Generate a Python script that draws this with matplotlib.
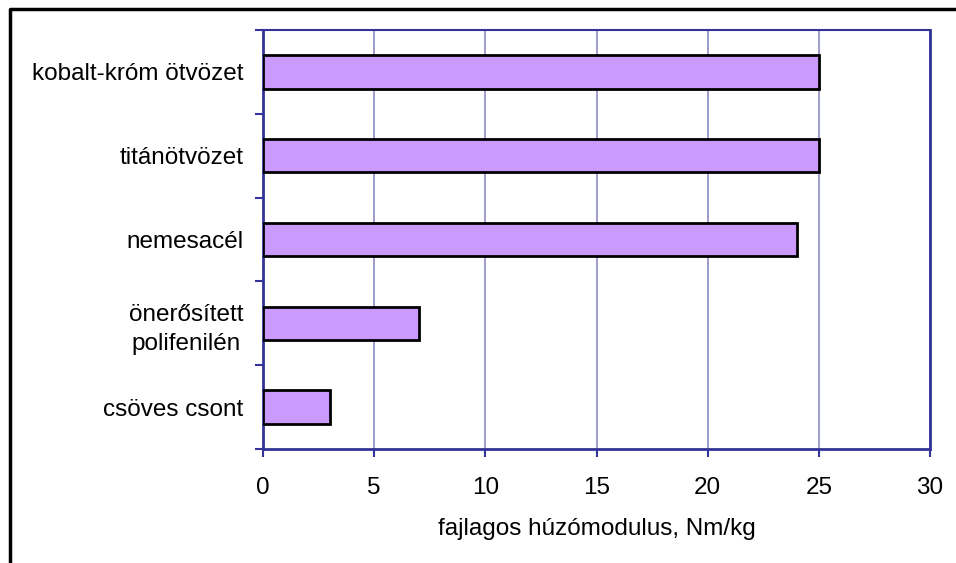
import matplotlib.pyplot as plt
from matplotlib.lines import Line2D
import numpy as np

plt.rcParams['font.family'] = ['Liberation Sans', 'DejaVu Sans']

categories = ['csöves csont', 'önerősített\npolifenilén', 'nemesacél',
              'titánötvözet', 'kobalt-króm ötvözet']
values = [3, 7, 24, 25, 25]
xticks = [0, 5, 10, 15, 20, 25, 30]
xlabel = 'fajlagos húzómodulus, Nm/kg'

axis_color = '#333399'
grid_color = '#8c8cc6'
bar_color = '#cc99ff'
fs = 17.5

fig = plt.figure(figsize=(9.56, 5.63), dpi=100)
ax = fig.add_axes([263 / 956, 1 - 449 / 563, (930 - 263) / 956, (449 - 30) / 563])

y = np.arange(len(categories))
ax.barh(y, values, height=0.4, color=bar_color, edgecolor='black', linewidth=2, zorder=3)

ax.set_xlim(0, 30)
ax.set_ylim(-0.5, len(categories) - 0.5)
ax.set_xticks(xticks)
ax.set_xticklabels([str(t) for t in xticks], fontsize=fs)
ax.set_yticks(y)
ax.set_yticklabels(categories, fontsize=fs, multialignment='center', linespacing=1.45)
ax.tick_params(axis='y', which='major', length=0, pad=14)
ax.set_yticks(np.arange(-0.5, len(categories)), minor=True)
ax.tick_params(axis='y', which='minor', length=6, width=1.5, color=axis_color, direction='out')
ax.tick_params(axis='x', length=6, width=1.5, color=axis_color, direction='out', pad=14)
ax.set_xlabel(xlabel, fontsize=fs, labelpad=14)

ax.xaxis.grid(True, color=grid_color, linewidth=1.2, zorder=0)
ax.set_axisbelow(True)
for side in ['left', 'bottom', 'right', 'top']:
    ax.spines[side].set_color(axis_color)
    ax.spines[side].set_linewidth(2)
ax.spines['top'].set_linewidth(1.5)

# outer chart border (left and top only visible)
fig.add_artist(Line2D([10 / 956, 10 / 956, 1.0], [0.0, 1 - 9 / 563, 1 - 9 / 563],
                      transform=fig.transFigure, color='black', linewidth=2.5))

fig.savefig('out.png', dpi=100)
